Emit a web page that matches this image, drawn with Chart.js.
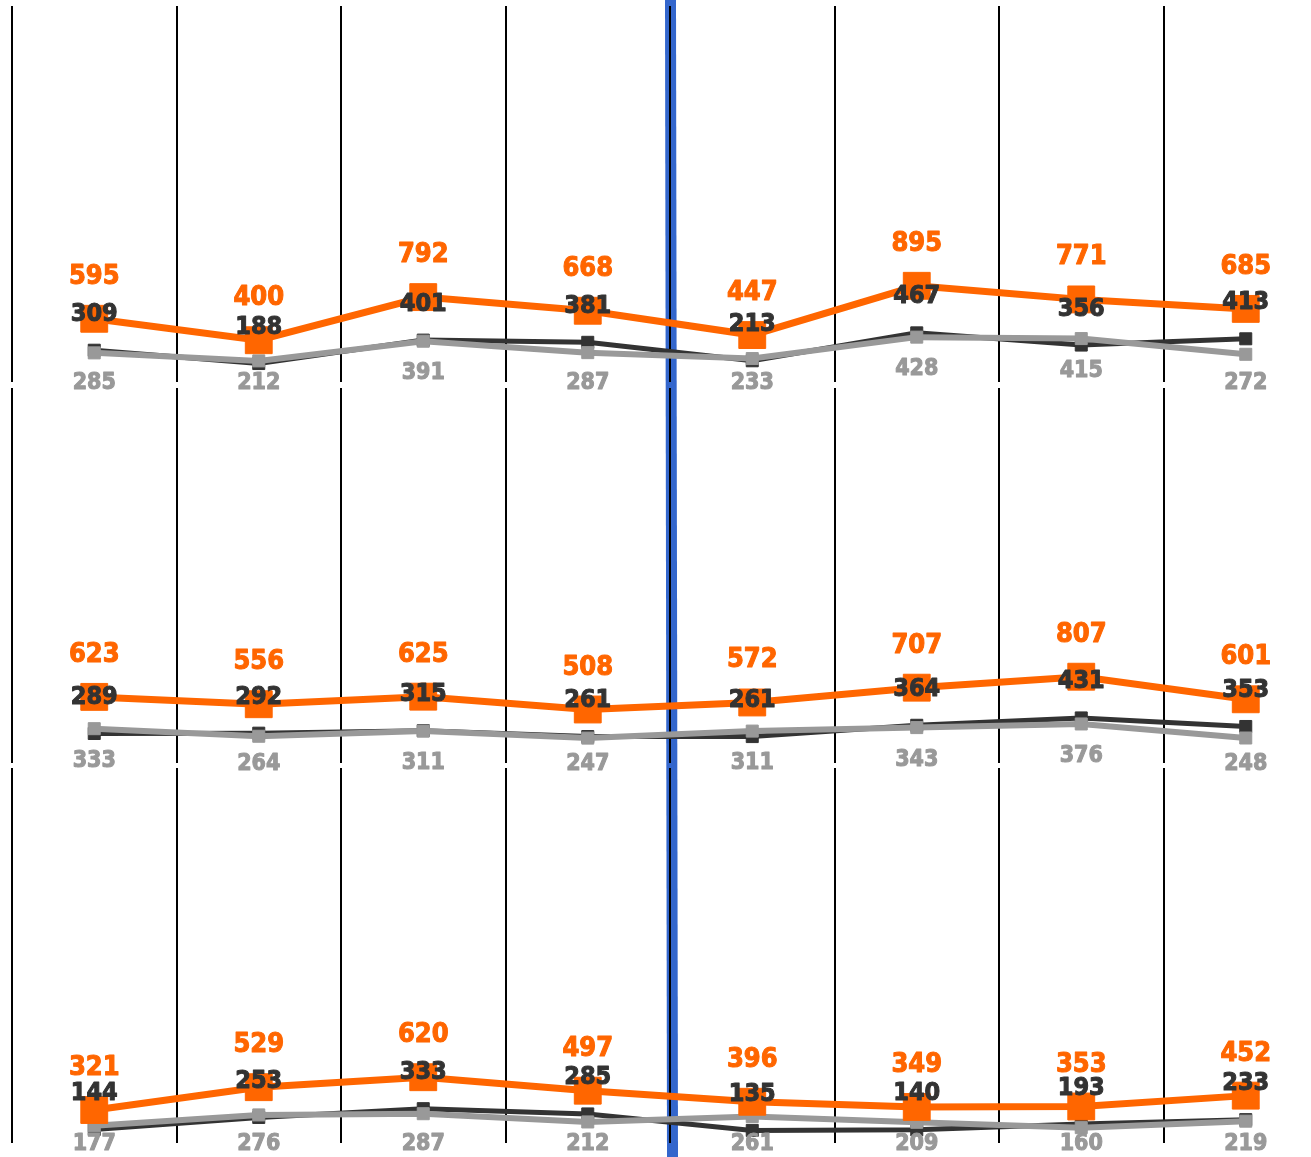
<!DOCTYPE html>
<html>
<head>
<meta charset="utf-8">
<script src="https://cdn.jsdelivr.net/npm/chart.js@4.4.1/dist/chart.umd.min.js"></script>
<style>
  html, body { margin: 0; padding: 0; overflow: hidden; background: #fff; }
  #wrap { position: relative; width: 1328px; height: 1157px; }
  #wrap canvas { position: absolute; left: 0; top: 0; }
</style>
</head>
<body>
<div id="wrap">
  <canvas id="panelTop" width="1328" height="1157"></canvas>
  <canvas id="panelMiddle" width="1328" height="1157"></canvas>
  <canvas id="panelBottom" width="1328" height="1157"></canvas>
</div>
<script>
const categories = ['1', '2', '3', '4', '5', '6', '7', '8'];

// top row
const topOrange = [595, 400, 792, 668, 447, 895, 771, 685];
const topDark = [309, 188, 401, 381, 213, 467, 356, 413];
const topGray = [285, 212, 391, 287, 233, 428, 415, 272];

// middle row
const midOrange = [623, 556, 625, 508, 572, 707, 807, 601];
const midDark = [289, 292, 315, 261, 261, 364, 431, 353];
const midGray = [333, 264, 311, 247, 311, 343, 376, 248];

// bottom row
const botOrange = [321, 529, 620, 497, 396, 349, 353, 452];
const botDark = [144, 253, 333, 285, 135, 140, 193, 233];
const botGray = [177, 276, 287, 212, 261, 209, 160, 219];

const Color = {
    Orange: '#ff6600',
    Dark: '#333333',
    Gray: '#999999',
    Blue: '#3366cc',
};

// blue divider between the 4th and 5th column, full page height
const splitLine = {
    id: 'splitLine',
    beforeDraw(chart) {
        const x = chart.scales.x;
        const pos = (x.getPixelForValue(3) + x.getPixelForValue(4)) / 2;
        const ctx = chart.ctx;
        ctx.save();
        ctx.strokeStyle = Color.Blue;
        ctx.lineWidth = 11;
        ctx.beginPath();
        ctx.moveTo(pos + 0.5, 0);
        ctx.lineTo(pos + 2.5, chart.height);
        ctx.stroke();
        ctx.restore();
    },
};

// value labels above / below every point
const valueLabels = {
    id: 'valueLabels',
    afterDatasetsDraw(chart) {
        const ctx = chart.ctx;
        const bottom = chart.chartArea.bottom;
        ctx.save();
        ctx.textAlign = 'center';
        ctx.textBaseline = 'middle';
        ctx.lineWidth = 1;
        ctx.lineJoin = 'round';
        chart.data.datasets.forEach((ds, i) => {
            const meta = chart.getDatasetMeta(i);
            ctx.fillStyle = ds.labelColor;
            ctx.strokeStyle = ds.labelColor;
            ctx.font = ds.labelFont;
            meta.data.forEach((pt, j) => {
                let y = pt.y + ds.labelShift;
                if (ds.labelShift > 0) {
                    y = Math.min(y, bottom + 1);
                }
                const text = String(ds.data[j]);
                ctx.fillText(text, pt.x, y);
                ctx.strokeText(text, pt.x, y);
            });
        });
        ctx.restore();
    },
};

function getDataSetEntry(label, data, color, lineWidth, radius, labelFont, labelShift) {
    return {
        label,
        data,
        borderColor: color,
        backgroundColor: color,
        borderWidth: lineWidth,
        tension: 0,
        fill: false,
        pointStyle: 'rect',
        pointRadius: radius,
        pointBorderWidth: 1,
        pointBorderColor: color,
        pointBackgroundColor: color,
        clip: false,
        labelColor: color,
        labelFont,
        labelShift,
    };
}

function makePanel(id, orange, dark, gray, top, bottom, extraPlugins) {
    const ctx = document.getElementById(id).getContext('2d');
    return new Chart(ctx, {
        type: 'line',
        data: {
            labels: categories,
            datasets: [
                getDataSetEntry('Orange', orange, Color.Orange, 7, 19, 'bold 27px "DejaVu Sans Condensed"', -42),
                getDataSetEntry('Gray', gray, Color.Gray, 6, 8.5, 'bold 23px "DejaVu Sans Condensed"', 32),
                getDataSetEntry('Dark', dark, Color.Dark, 5, 8.5, 'bold 25px "DejaVu Sans Condensed"', -36),
            ],
        },
        options: {
            responsive: false,
            animation: false,
            devicePixelRatio: 1,
            events: [],
            layout: {
                autoPadding: false,
                padding: { left: 12, right: 0, top: top, bottom: 1157 - bottom },
            },
            plugins: {
                legend: { display: false },
                tooltip: { enabled: false },
            },
            scales: {
                x: {
                    offset: true,
                    ticks: { display: false },
                    border: { display: false },
                    grid: { offset: true, color: '#000000', lineWidth: 2, drawTicks: false },
                },
                y: {
                    display: false,
                    min: 20,
                    max: 3440,
                },
            },
        },
        plugins: extraPlugins.concat([valueLabels]),
    });
}

makePanel('panelTop', topOrange, topDark, topGray, 6, 382, [splitLine]);
makePanel('panelMiddle', midOrange, midDark, midGray, 388, 763, []);
makePanel('panelBottom', botOrange, botDark, botGray, 768, 1143, []);
</script>
</body>
</html>
